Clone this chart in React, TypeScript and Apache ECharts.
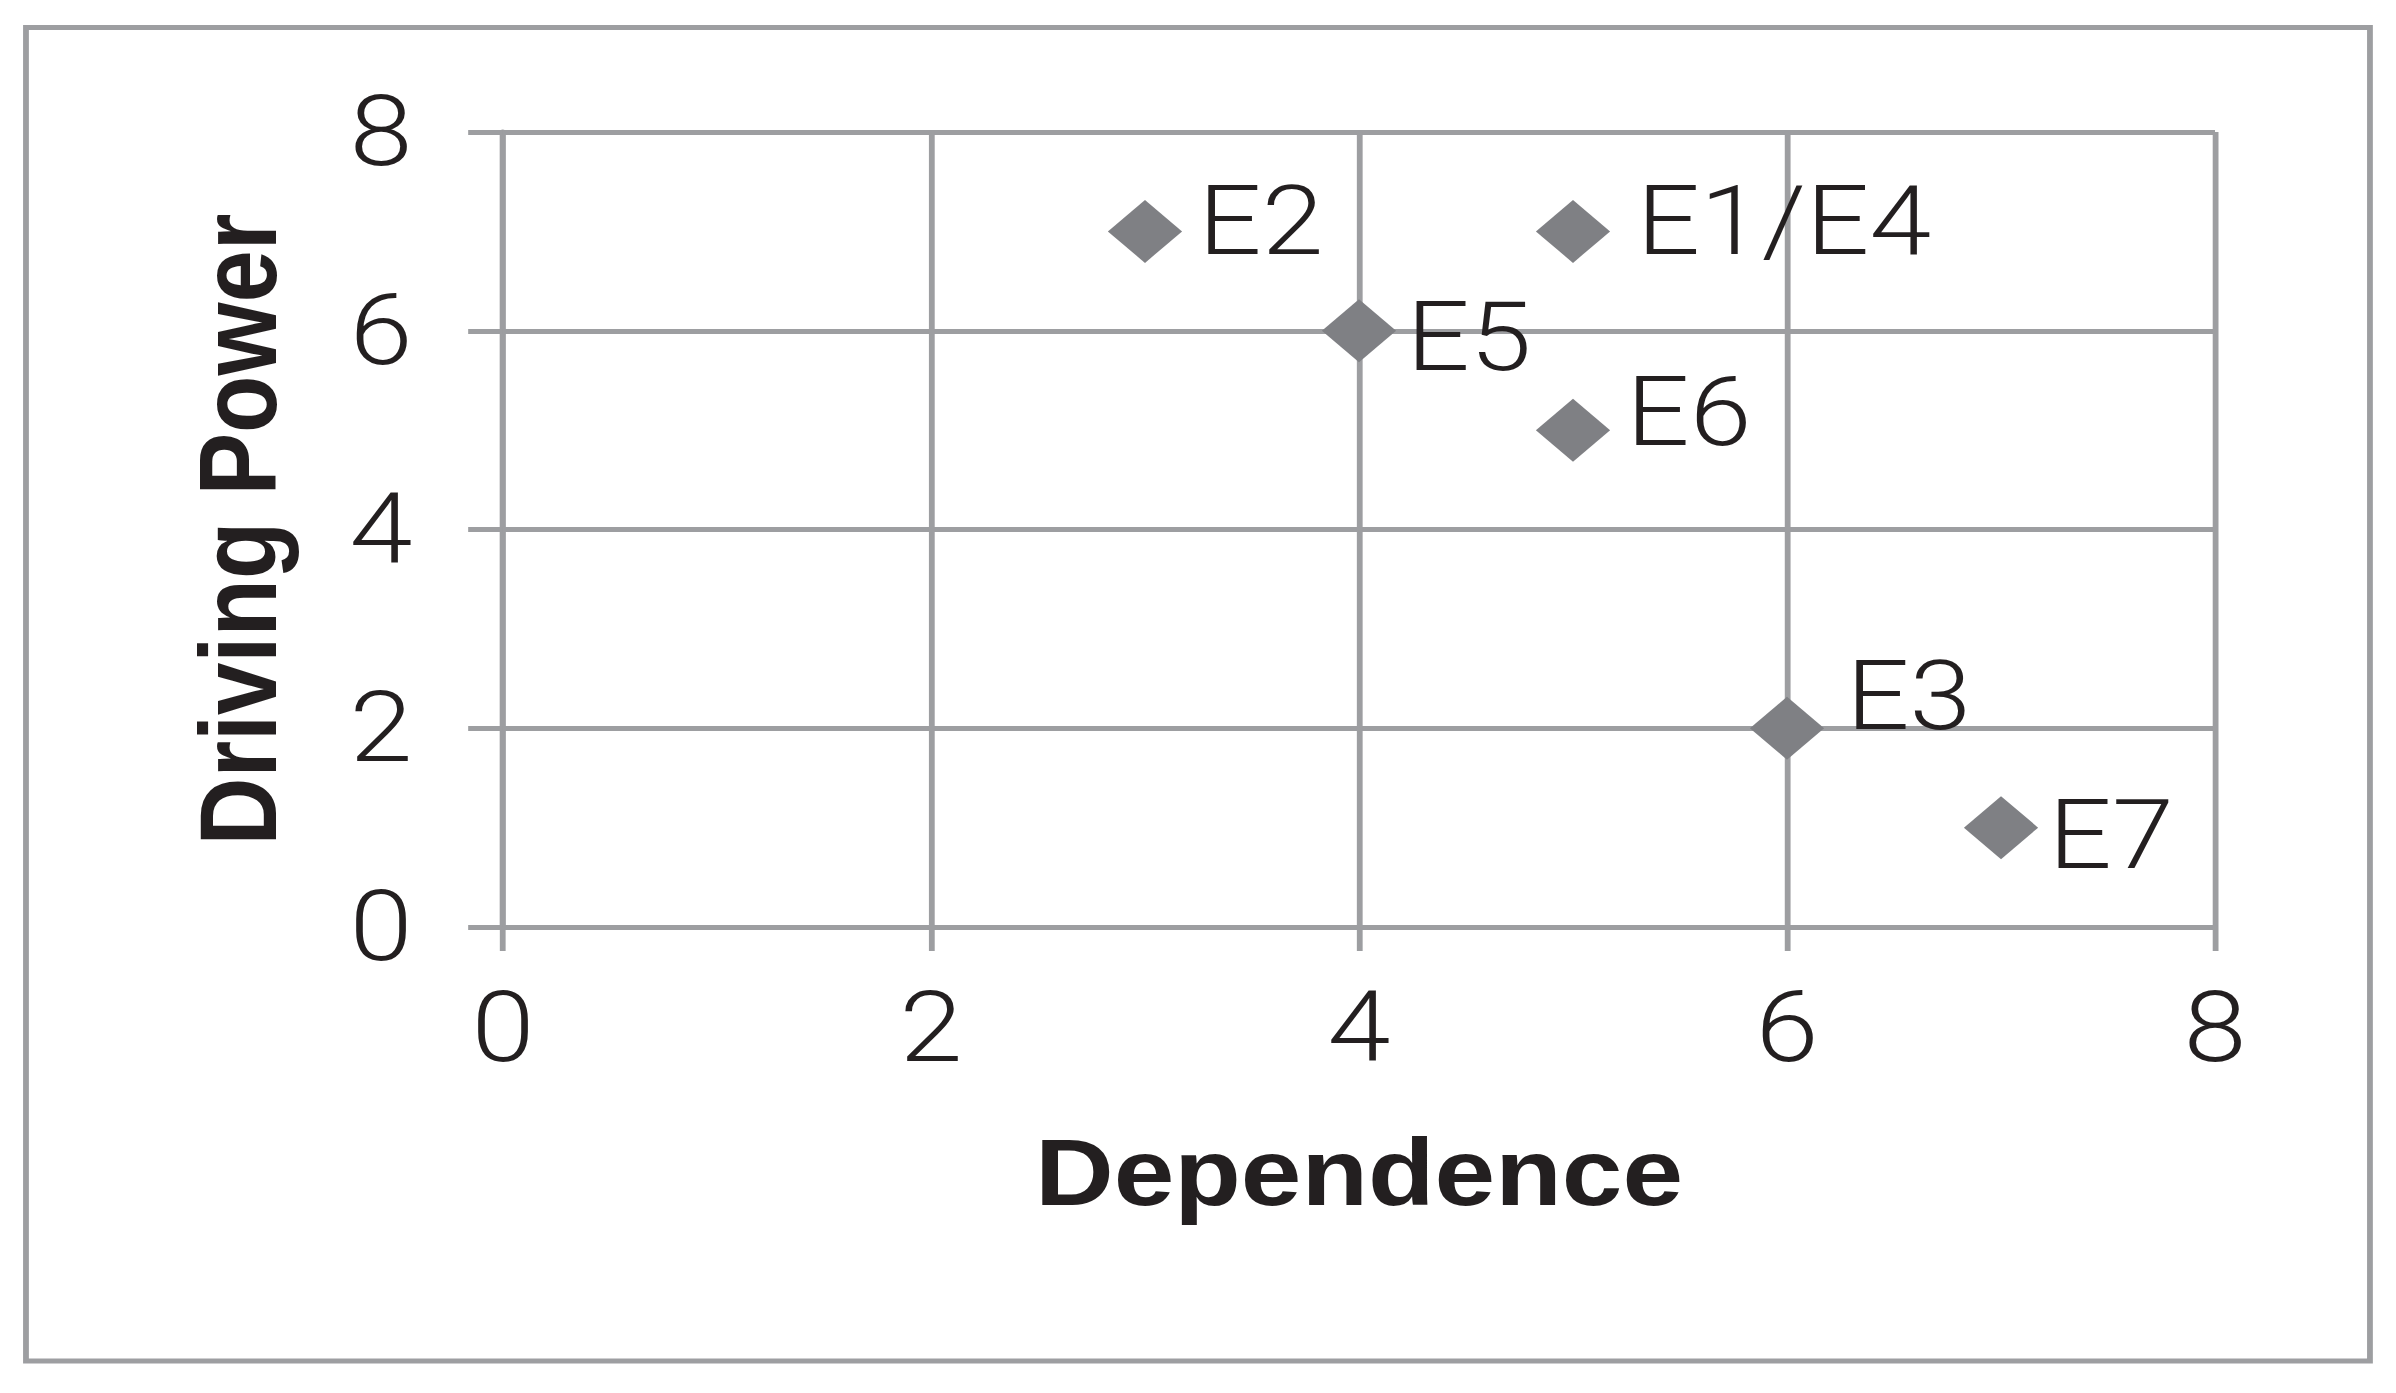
import React, { useEffect, useRef } from "react";
import * as echarts from "echarts";

// ---- data ----
const pointNames = ["E1/E4", "E2", "E3", "E5", "E6", "E7"];
const dependence = [5, 3, 6, 4, 5, 7];
const drivingPower = [7, 7, 2, 6, 5, 1];
const axisMin = 0;
const axisMax = 8;
const axisInterval = 2;
const xTitle = "Dependence";
const yTitle = "Driving Power";

// ---- style (label nudges per point, in px) ----
const labelOffsets: [number, number][] = [
  [23, -10],
  [14, -10],
  [19, -32],
  [9, 6],
  [14, -18],
  [9, 8],
];

const STRETCH = 1.1597;
const W = 2066;
const H = 1393;
const GRID = "#9d9ea1";
const MARK = "#7f8084";
const TEXT = "#231f20";
const LIGHT = "Roboto, 'Liberation Sans', Arial, sans-serif";
const BOLD = "'Liberation Sans', Arial, Helvetica, sans-serif";

export default function App() {
  const ref = useRef<HTMLDivElement>(null);
  useEffect(() => {
    if (!ref.current) return;
    const chart = echarts.init(ref.current, undefined, { renderer: "svg" });
    const data = pointNames.map((n, i) => ({
      name: n,
      value: [dependence[i], drivingPower[i]],
      label: { offset: labelOffsets[i] },
    }));
    const axisCommon = {
      type: "value" as const,
      min: axisMin,
      max: axisMax,
      interval: axisInterval,
      axisLine: { show: true, onZero: false, lineStyle: { color: GRID, width: 5 } },
      splitLine: { show: true, lineStyle: { color: GRID, width: 5 } },
      nameLocation: "middle" as const,
      nameTextStyle: { fontFamily: BOLD, fontWeight: "bold" as const, fontSize: 94, color: TEXT },
    };
    chart.setOption({
      animation: false,
      backgroundColor: "#ffffff",
      graphic: [
        {
          type: "rect",
          shape: { x: 22.4, y: 27.5, width: 2021.2, height: 1333.5 },
          style: { fill: "none", stroke: GRID, lineWidth: 5 },
          silent: true,
        },
      ],
      grid: { left: 433.7, right: 156, top: 132, bottom: 466 },
      xAxis: {
        ...axisCommon,
        name: xTitle,
        nameGap: 199,
        axisTick: { show: true, length: 24, lineStyle: { color: GRID, width: 5 } },
        axisLabel: { fontFamily: LIGHT, fontWeight: 300, fontSize: 98, color: TEXT, margin: 52 },
      },
      yAxis: {
        ...axisCommon,
        name: yTitle,
        nameGap: 181,
        nameRotate: 90,
        axisTick: { show: true, length: 30, lineStyle: { color: GRID, width: 5 } },
        axisLabel: { fontFamily: LIGHT, fontWeight: 300, fontSize: 98, color: TEXT, margin: 78 },
      },
      series: [
        {
          type: "scatter",
          symbol: "diamond",
          symbolSize: [64, 63],
          itemStyle: { color: MARK, opacity: 1 },
          data,
          label: {
            show: true,
            position: "right",
            distance: 0,
            formatter: "{b}",
            fontFamily: LIGHT,
            fontWeight: 300,
            fontSize: 96,
            color: TEXT,
            opacity: 1,
          },
        },
      ],
    });
    return () => chart.dispose();
  }, []);
  return (
    <div
      style={{
        position: "absolute",
        left: 0,
        top: 0,
        width: W,
        height: H,
        transform: `scaleX(${STRETCH})`,
        transformOrigin: "0 0",
        background: "#ffffff",
      }}
    >
      <div ref={ref} style={{ width: W, height: H }} />
    </div>
  );
}
